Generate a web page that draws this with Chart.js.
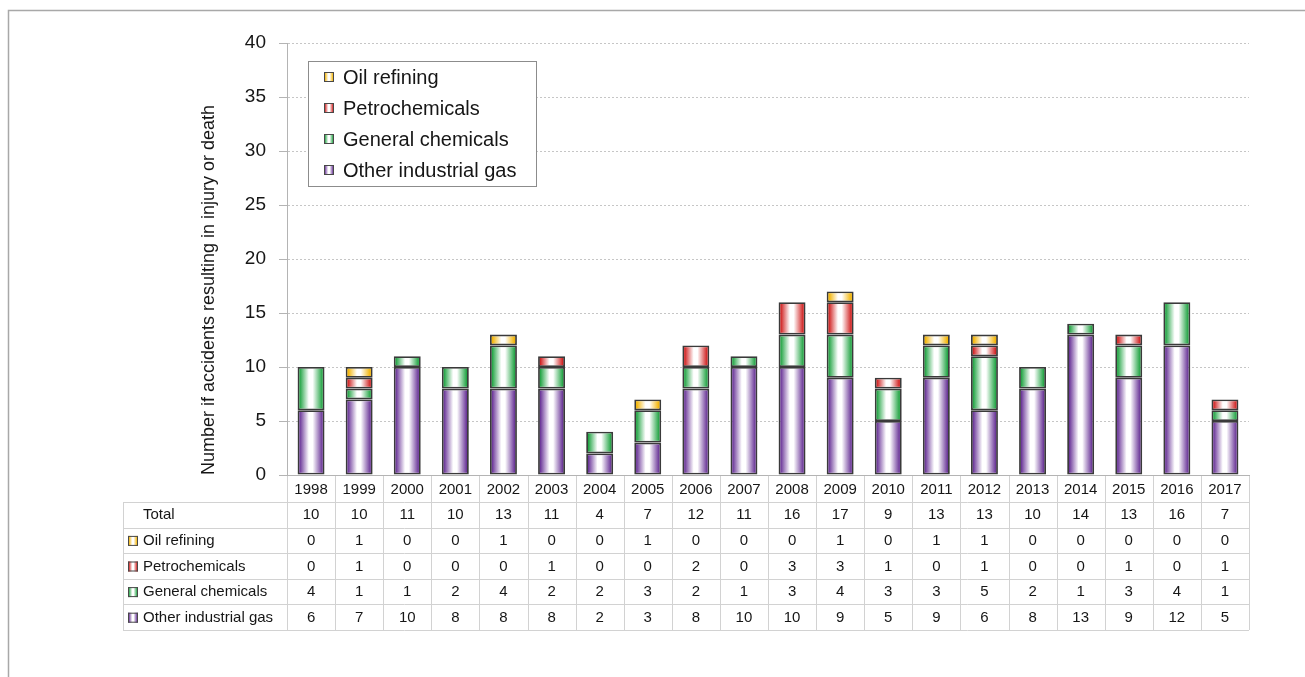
<!DOCTYPE html>
<html>
<head>
<meta charset="utf-8">
<title>Accidents resulting in injury or death, 1998–2017</title>
<script src="https://cdn.jsdelivr.net/npm/chart.js@4.4.1/dist/chart.umd.min.js"></script>
<style>
  html, body { margin: 0; padding: 0; background: #ffffff; }
  #wrap { position: relative; width: 1305px; height: 677px; }
  canvas { display: block; }
</style>
</head>
<body>
<div id="wrap"><canvas id="chart" width="1305" height="677"></canvas></div>
<script>
// ---- data ----
const years = ['1998','1999','2000','2001','2002','2003','2004','2005','2006','2007',
               '2008','2009','2010','2011','2012','2013','2014','2015','2016','2017'];
const oilRefining        = [0, 1, 0, 0, 1, 0, 0, 1, 0, 0, 0, 1, 0, 1, 1, 0, 0, 0, 0, 0];
const petrochemicals     = [0, 1, 0, 0, 0, 1, 0, 0, 2, 0, 3, 3, 1, 0, 1, 0, 0, 1, 0, 1];
const generalChemicals   = [4, 1, 1, 2, 4, 2, 2, 3, 2, 1, 3, 4, 3, 3, 5, 2, 1, 3, 4, 1];
const otherIndustrialGas = [6, 7,10, 8, 8, 8, 2, 3, 8,10,10, 9, 5, 9, 6, 8,13, 9,12, 5];
const yTickValues = [0, 5, 10, 15, 20, 25, 30, 35, 40];
const yAxisTitle = 'Number if accidents resulting in injury or death';
const totalLabel = 'Total';

// ---- styling ----
const FONT = '"Liberation Sans", Arial, Helvetica, sans-serif';
const TEXT = '#161616';
const BAR_PCT = 0.56;

// legend / table order (top to bottom)
const series = [
  { name: 'Oil refining',         data: oilRefining,        color: '#f2b200' },
  { name: 'Petrochemicals',       data: petrochemicals,     color: '#d02020' },
  { name: 'General chemicals',    data: generalChemicals,   color: '#22a444' },
  { name: 'Other industrial gas', data: otherIndustrialGas, color: '#6a3598' }
];
const totals = years.map((_, i) => series.reduce((s, d) => s + d.data[i], 0));

// horizontal "cylinder" shading: coloured edges, white core
function addStops(g, color) {
  g.addColorStop(0, color);
  g.addColorStop(0.08, color);
  g.addColorStop(0.42, '#ffffff');
  g.addColorStop(0.56, '#ffffff');
  g.addColorStop(0.92, color);
  g.addColorStop(1, color);
  return g;
}

function barFill(color) {
  return function (ctx) {
    const chart = ctx.chart;
    const xs = chart.scales && chart.scales.x;
    if (ctx.type !== 'data' || !xs || xs.right === undefined) return color;
    const cw = (xs.right - xs.left) / years.length;
    const w = cw * BAR_PCT;
    const cx = xs.getPixelForValue(ctx.dataIndex);
    if (!isFinite(cx)) return color;
    return addStops(chart.ctx.createLinearGradient(cx - w / 2, 0, cx + w / 2, 0), color);
  };
}

function drawMarker(c, x, y, color) {
  const s = 10;
  c.save();
  c.fillStyle = addStops(c.createLinearGradient(x, 0, x + s, 0), color);
  c.fillRect(x, y - s / 2, s, s);
  c.strokeStyle = '#484848';
  c.lineWidth = 1;
  c.strokeRect(x + 0.5, y - s / 2 + 0.5, s - 1, s - 1);
  c.restore();
}

// outer frame and white background
const framePlugin = {
  id: 'frame',
  beforeDraw(chart) {
    const c = chart.ctx;
    c.save();
    c.fillStyle = '#ffffff';
    c.fillRect(0, 0, chart.width, chart.height);
    c.strokeStyle = '#a8a8a8';
    c.lineWidth = 1.5;
    c.strokeRect(8.5, 10.5, chart.width + 20, chart.height + 20);
    c.restore();
  }
};

// rotated y-axis title
const yTitlePlugin = {
  id: 'yTitle',
  afterDraw(chart) {
    const c = chart.ctx;
    c.save();
    c.translate(209, 290);
    c.rotate(-Math.PI / 2);
    c.font = '18px ' + FONT;
    c.fillStyle = TEXT;
    c.textAlign = 'center';
    c.textBaseline = 'middle';
    c.fillText(yAxisTitle, 0, 0);
    c.restore();
  }
};

// boxed legend inside the plot area
const legendBoxPlugin = {
  id: 'legendBox',
  afterDraw(chart) {
    const c = chart.ctx;
    const bx = 308, by = 61, bw = 228, bh = 125;
    c.save();
    c.fillStyle = '#ffffff';
    c.fillRect(bx, by, bw, bh);
    c.strokeStyle = '#8c8c8c';
    c.lineWidth = 1;
    c.strokeRect(bx + 0.5, by + 0.5, bw, bh);
    c.font = '20px ' + FONT;
    c.textAlign = 'left';
    c.textBaseline = 'middle';
    series.forEach((s, i) => {
      const y = 77 + i * 31;
      drawMarker(c, 324, y, s.color);
      c.fillStyle = TEXT;
      c.fillText(s.name, 343, y + 1);
    });
    c.restore();
  }
};

// data table under the x axis, columns aligned with the categories
const dataTablePlugin = {
  id: 'dataTable',
  afterDraw(chart) {
    const c = chart.ctx;
    const xs = chart.scales.x;
    const left = xs.left, right = xs.right;
    const cw = (right - left) / years.length;
    const top = chart.chartArea.bottom;
    const headH = 27;
    const rowH = 25.6;
    const labelLeft = 123;
    const rows = [{ name: totalLabel, data: totals, color: null }].concat(series);
    const bottom = top + headH + rows.length * rowH;

    c.save();
    c.strokeStyle = '#d2d2d2';
    c.lineWidth = 1;
    c.beginPath();
    for (let i = 0; i <= years.length; i++) {
      const x = Math.round(left + i * cw) + 0.5;
      c.moveTo(x, top + 1);
      c.lineTo(x, bottom);
    }
    for (let r = 0; r <= rows.length; r++) {
      const y = Math.round(top + headH + r * rowH) + 0.5;
      c.moveTo(labelLeft, y);
      c.lineTo(right, y);
    }
    c.moveTo(labelLeft + 0.5, top + headH);
    c.lineTo(labelLeft + 0.5, bottom);
    c.stroke();

    c.fillStyle = TEXT;
    c.textBaseline = 'middle';
    c.textAlign = 'center';
    c.font = '15px ' + FONT;
    years.forEach((yr, i) => c.fillText(yr, xs.getPixelForValue(i), top + headH / 2 + 1));

    rows.forEach((row, r) => {
      const cy = top + headH + r * rowH + rowH / 2 + 0.5;
      c.textAlign = 'left';
      c.font = '15px ' + FONT;
      if (row.color) drawMarker(c, 128, cy, row.color);
      c.fillStyle = TEXT;
      c.fillText(row.name, 143, cy);
      c.textAlign = 'center';
      c.font = '15px ' + FONT;
      row.data.forEach((v, i) => c.fillText(String(v), xs.getPixelForValue(i), cy));
    });
    c.restore();
  }
};

// stacking order: bottom segment first
const stackOrder = [3, 2, 1, 0];

new Chart(document.getElementById('chart'), {
  type: 'bar',
  data: {
    labels: years,
    datasets: stackOrder.map(k => ({
      label: series[k].name,
      data: series[k].data,
      backgroundColor: barFill(series[k].color),
      borderColor: '#3a3a3a',
      borderWidth: 1.8,
      borderSkipped: false,
      barPercentage: BAR_PCT,
      categoryPercentage: 1.0
    }))
  },
  options: {
    responsive: false,
    animation: false,
    events: [],
    layout: { padding: { left: 0, right: 56, top: 43, bottom: 202 } },
    plugins: {
      legend: { display: false },
      tooltip: { enabled: false }
    },
    scales: {
      x: {
        stacked: true,
        grid: { display: false },
        ticks: { display: false },
        border: { display: true, color: '#b4b4b4', width: 1 },
        afterFit(scale) { scale.height = 0; }
      },
      y: {
        stacked: true,
        min: 0,
        max: 40,
        afterBuildTicks(scale) { scale.ticks = yTickValues.map(v => ({ value: v })); },
        ticks: {
          color: TEXT,
          padding: 13,
          font: { family: FONT, size: 19 }
        },
        grid: {
          color: '#c6c6c6',
          lineWidth: 1,
          tickLength: 8,
          tickColor: '#b4b4b4',
          tickBorderDash: []
        },
        border: { display: true, color: '#b4b4b4', width: 1, dash: [2, 2] },
        afterFit(scale) { scale.width = 287; }
      }
    }
  },
  plugins: [framePlugin, yTitlePlugin, legendBoxPlugin, dataTablePlugin]
});
</script>
</body>
</html>
